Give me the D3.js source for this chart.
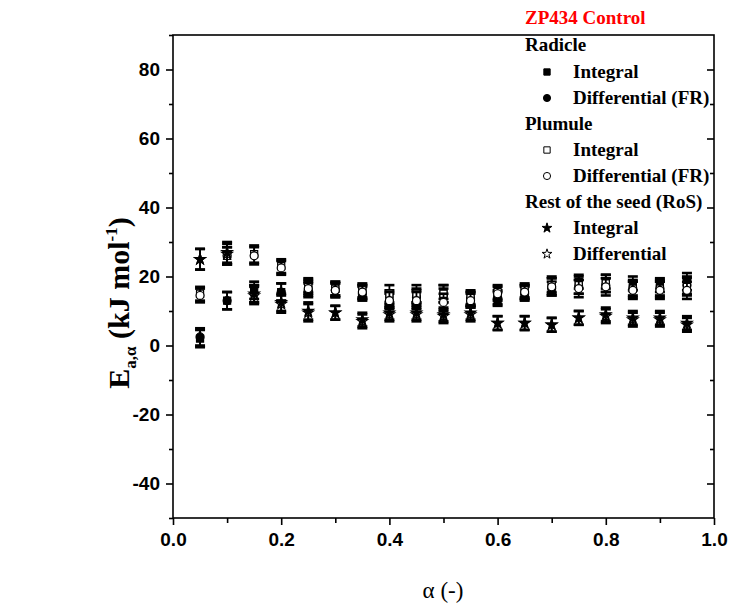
<!DOCTYPE html>
<html><head><meta charset="utf-8">
<script src="https://cdn.jsdelivr.net/npm/d3@7"></script>
<style>body{margin:0;background:#fff;} svg{display:block;}</style>
</head><body>
<svg id="c" width="733" height="607"></svg>
<script>
const alpha = [0.05,0.10,0.15,0.20,0.25,0.30,0.35,0.40,0.45,0.50,0.55,0.60,0.65,0.70,0.75,0.80,0.85,0.90,0.95];
const radicleIntegral = [2,13,16,15.5,17.5,16.5,15.5,14,14.5,15.5,13.5,13.5,15.5,17.5,18.5,18.5,18,17.5,18.5];
const radicleDiff     = [2.5,13,15,15.5,16,16,15,13,14,14.5,13.5,14,15,16.5,17,17.5,16.5,16.5,17.5];
const plumuleIntegral = [15,26,26.5,23,17,16.5,16,15,15,15,14,15.5,16,17.5,17.5,18,16.5,16.5,17];
const plumuleDiff     = [14.5,26,26,22.5,16.5,16,15.5,13,13,12.5,13,15,15.5,17,16.5,17,16,16,16];
const rosIntegral     = [25,27,15,12.5,10,9.5,7.5,9.5,9.5,9,9.5,6.5,6.5,6,8,9,8,8,6.5];
const rosDiff         = [25,26.5,14.5,12,9.5,9.5,7,9,9,8.5,9,6.5,6.5,6,8,8.5,7.5,7.5,6];
const errRadicle = [2.5,2.5,2.5,2.5,2,2,2,2,2,2,2,2,2,2,2,2,2,2,2.5];
const errPlumule = [2,2.5,2.5,2,2,2,2,2.5,2.5,2.5,2,2,2,2.5,2.5,2.5,2.5,2.5,2.5];
const errRoS     = [3,3,2.5,2.5,2.5,2,2,2,2,2,2,2,2,2,2,2,2,2,2];
const xTicks = [0.0,0.2,0.4,0.6,0.8,1.0];
const yTicks = [-40,-20,0,20,40,60,80];
const legendGroups = ["Radicle","Plumule","Rest of the seed (RoS)"];
const legendItems = ["Integral","Differential (FR)","Integral","Differential (FR)","Integral","Differential"];

const series = [
  {name:"Radicle Integral", vals:radicleIntegral, err:errRadicle, sym:"square", fill:true},
  {name:"Radicle Differential", vals:radicleDiff, err:errRadicle, sym:"circle", fill:true},
  {name:"Plumule Integral", vals:plumuleIntegral, err:errPlumule, sym:"square", fill:false},
  {name:"Plumule Differential", vals:plumuleDiff, err:errPlumule, sym:"circle", fill:false},
  {name:"RoS Differential", vals:rosDiff, err:errRoS, sym:"star", fill:false},
  {name:"RoS Integral", vals:rosIntegral, err:errRoS, sym:"star", fill:true}
];

const svg = d3.select("#c");
const L=173, R=714, T=35, B=518;
const x = d3.scaleLinear().domain([0,1]).range([L,R]);
const y = d3.scaleLinear().domain([-50,90]).range([B,T]);

function symPath(sym, size){
  const t = sym==="square"?d3.symbolSquare: sym==="circle"?d3.symbolCircle: d3.symbolStar;
  return d3.symbol().type(t).size(size)();
}
const sizes = {square:50, circle:50, star:34};

svg.append("rect").attr("x",L).attr("y",T).attr("width",R-L).attr("height",B-T)
  .attr("fill","none").attr("stroke","#000").attr("stroke-width",1.6);

const tickFont = "'Liberation Sans', Arial, sans-serif";
const xa = svg.append("g").attr("transform",`translate(0,${B})`)
  .call(d3.axisBottom(x).tickValues(xTicks).tickFormat(d3.format(".1f")).tickSize(7).tickPadding(8));
xa.select(".domain").remove();
svg.append("g").attr("transform",`translate(0,${B})`)
  .call(d3.axisBottom(x).tickValues([0.1,0.3,0.5,0.7,0.9]).tickSize(5).tickFormat(""))
  .select(".domain").remove();
const ya = svg.append("g").attr("transform",`translate(${L},0)`)
  .call(d3.axisLeft(y).tickValues(yTicks).tickSize(7).tickPadding(6).tickFormat(d=>String(d)));
ya.select(".domain").remove();
svg.append("g").attr("transform",`translate(${L},0)`)
  .call(d3.axisLeft(y).tickValues([-50,-30,-10,10,30,50,70,90]).tickSize(4).tickFormat(""))
  .select(".domain").remove();
svg.append("g").attr("transform",`translate(${R},0)`)
  .call(d3.axisLeft(y).tickValues(yTicks).tickSize(7).tickFormat(""))
  .select(".domain").remove();
svg.append("g").attr("transform",`translate(${R},0)`)
  .call(d3.axisLeft(y).tickValues([-30,-10,10,30,50,70]).tickSize(4).tickFormat(""))
  .select(".domain").remove();
svg.selectAll(".tick line").attr("stroke","#000").attr("stroke-width",1.6);
svg.selectAll(".tick text").attr("font-family",tickFont).attr("font-size",19).attr("font-weight","bold").attr("fill","#000");

const plot = svg.append("g");
series.forEach(s=>{
  const g = plot.append("g");
  const pts = alpha.map((a,i)=>({a, v:s.vals[i], e:s.err[i]}));
  g.selectAll("line.eb").data(pts).join("line")
    .attr("x1",d=>x(d.a)).attr("x2",d=>x(d.a)).attr("y1",d=>y(d.v-d.e)).attr("y2",d=>y(d.v+d.e))
    .attr("stroke","#000").attr("stroke-width",1.8);
  [1,-1].forEach(sg=>{
    g.selectAll("line.cap"+sg).data(pts).join("line")
      .attr("x1",d=>x(d.a)-5).attr("x2",d=>x(d.a)+5)
      .attr("y1",d=>y(d.v+sg*d.e)).attr("y2",d=>y(d.v+sg*d.e))
      .attr("stroke","#000").attr("stroke-width",2.6);
  });
  g.selectAll("path").data(pts).join("path")
    .attr("d",symPath(s.sym,sizes[s.sym]))
    .attr("transform",d=>`translate(${x(d.a)},${y(d.v)})`)
    .attr("fill",s.fill?"#000":"#fff").attr("stroke","#000").attr("stroke-width",1.2);
});

const serif = "'Liberation Serif','Times New Roman',serif";
const yl = svg.append("text").attr("transform","translate(129,303) rotate(-90)")
  .attr("text-anchor","middle").attr("font-family",serif).attr("font-weight","bold").attr("font-size",30);
yl.append("tspan").text("E");
yl.append("tspan").text("a,α").attr("font-size",17).attr("dy",7);
yl.append("tspan").text(" (kJ mol").attr("dy",-7);
yl.append("tspan").text("-1").attr("font-size",17).attr("dy",-12);
yl.append("tspan").text(")").attr("dy",12);

svg.append("text").attr("x",443).attr("y",598).attr("text-anchor","middle")
  .attr("font-family",serif).attr("font-size",23).text("α (-)");

const lf = 19;
svg.append("text").attr("x",525).attr("y",24).attr("font-family",serif).attr("font-weight","bold")
  .attr("font-size",lf).attr("fill","#ff0000").text("ZP434 Control");
const rowY = [45,72,98,124,150,176,202,228,254];
const legSyms = [series[0],series[1],series[2],series[3],series[5],series[4]];
let k=0;
legendGroups.forEach((gname,gi)=>{
  svg.append("text").attr("x",525).attr("y",rowY[gi*3]+6).attr("font-family",serif).attr("font-weight","bold")
    .attr("font-size",lf).text(gname);
  for(let j=0;j<2;j++){
    const s = legSyms[k];
    const yy = rowY[gi*3+1+j];
    svg.append("path").attr("d",symPath(s.sym, s.sym==="star"?30:40))
      .attr("transform",`translate(547,${yy})`)
      .attr("fill",s.fill?"#000":"#fff").attr("stroke","#000").attr("stroke-width",1);
    svg.append("text").attr("x",573).attr("y",yy+6).attr("font-family",serif).attr("font-weight","bold")
      .attr("font-size",lf).text(legendItems[k]);
    k++;
  }
});
</script>
</body></html>
